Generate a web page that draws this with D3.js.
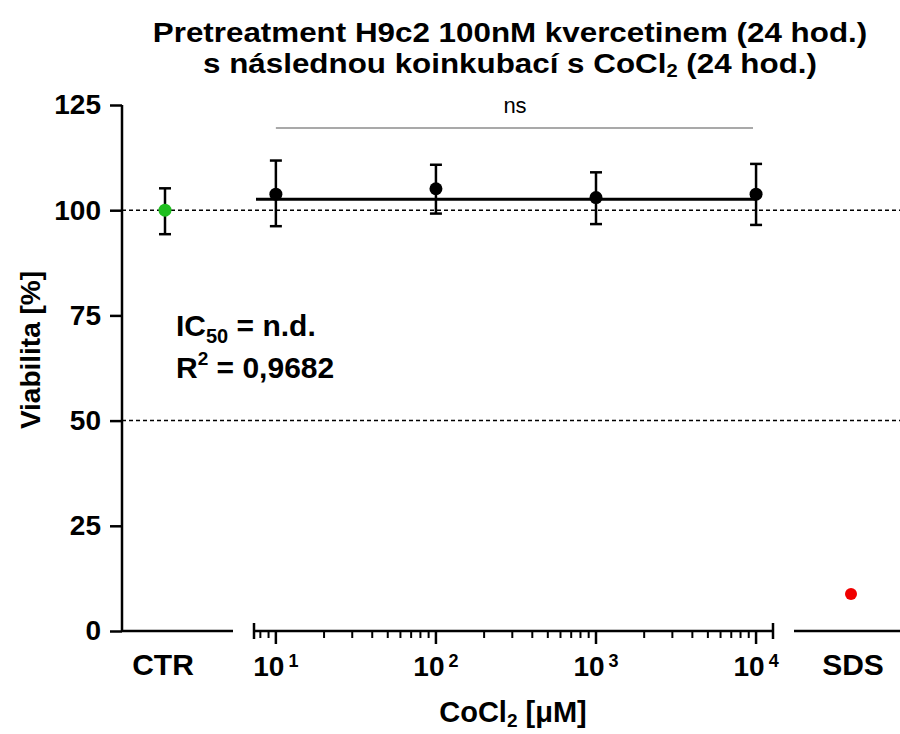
<!DOCTYPE html>
<html>
<head>
<meta charset="utf-8">
<script src="https://cdn.jsdelivr.net/npm/d3@7"></script>
<style>
  body { margin: 0; background: #fff; }
  svg text { font-family: "Liberation Sans", Arial, sans-serif; font-weight: bold; }
</style>
</head>
<body>
<script>
// data
var concentrations = [10, 100, 1000, 10000]
var viability = [103.8, 105.1, 103.0, 103.8]
var errLow = [96.2, 99.2, 96.7, 96.5]
var errHigh = [111.8, 110.8, 109.0, 111.0]
var ctrValue = [100]
var ctrErr = [94.3, 105.2]
var sdsValue = [8.8]
var fitLevel = 102.6
var yTicks = [0, 25, 50, 75, 100, 125]
var refLines = [100, 50]
var xMajor = [10, 100, 1000, 10000]

var width = 900, height = 734

var svg = d3.select("body").append("svg")
  .attr("width", width).attr("height", height)

var y = d3.scaleLinear().domain([0, 125]).range([631, 105])

// three x segments: CTR, log concentration, SDS
var xCtr = d3.scalePoint().domain(["CTR"]).range([122, 208]).padding(0.5)
var xLog = d3.scaleLog().domain([7.3, 12760]).range([254, 773])
var xSds = d3.scalePoint().domain(["SDS"]).range([796, 906]).padding(0.5)

// reference dashed lines
svg.selectAll(".ref").data(refLines).enter().append("line")
  .attr("x1", 122).attr("x2", width)
  .attr("y1", function(d) { return y(d) }).attr("y2", function(d) { return y(d) })
  .attr("stroke", "#000").attr("stroke-width", 1.5)
  .attr("stroke-dasharray", "4,3")

// y axis
var yAxis = svg.append("g").attr("transform", "translate(122,0)")
  .call(d3.axisLeft(y).tickValues(yTicks).tickSize(12).tickPadding(9))
yAxis.select(".domain").attr("d", "M-0," + y(125) + "V" + y(0)).attr("stroke-width", 2.5)
yAxis.selectAll(".tick line").attr("stroke-width", 2.5)
yAxis.selectAll("text").attr("font-size", 28).attr("fill", "#000")
  .style("font-family", "'Liberation Sans', Arial").style("font-weight", "bold")

// x axis: CTR segment
svg.append("line").attr("x1", 122).attr("x2", 233).attr("y1", y(0)).attr("y2", y(0))
  .attr("stroke", "#000").attr("stroke-width", 2.5)

// x axis: log segment
var logG = svg.append("g").attr("transform", "translate(0," + y(0) + ")")
logG.append("line").attr("x1", xLog.range()[0]).attr("x2", xLog.range()[1])
  .attr("stroke", "#000").attr("stroke-width", 2.5)
var minor = []
for (var e = 0; e < 4; e++) {
  for (var m = 2; m <= 9; m++) {
    var v = m * Math.pow(10, e)
    if (v > xLog.domain()[0] && v < xLog.domain()[1]) minor.push(v)
  }
}
logG.selectAll(".minor").data(minor).enter().append("line")
  .attr("x1", function(d) { return xLog(d) }).attr("x2", function(d) { return xLog(d) })
  .attr("y1", 0).attr("y2", 7).attr("stroke", "#000").attr("stroke-width", 2)
logG.selectAll(".major").data(xMajor).enter().append("line")
  .attr("x1", function(d) { return xLog(d) }).attr("x2", function(d) { return xLog(d) })
  .attr("y1", 0).attr("y2", 13).attr("stroke", "#000").attr("stroke-width", 2.5)
logG.selectAll(".cap").data(xLog.range()).enter().append("line")
  .attr("x1", function(d) { return d }).attr("x2", function(d) { return d })
  .attr("y1", -8).attr("y2", 8).attr("stroke", "#000").attr("stroke-width", 2.5)
var majorLbl = logG.selectAll(".mlbl").data(xMajor).enter().append("text")
  .attr("x", function(d) { return xLog(d) }).attr("y", 45)
  .attr("text-anchor", "middle").attr("font-size", 28)
majorLbl.append("tspan").text("10")
majorLbl.append("tspan").attr("dy", -9).attr("dx", 4).attr("font-size", 18)
  .text(function(d) { return Math.round(Math.log10(d)) })

// x axis: SDS segment
svg.append("line").attr("x1", 794).attr("x2", width).attr("y1", y(0)).attr("y2", y(0))
  .attr("stroke", "#000").attr("stroke-width", 2.5)

// category labels
svg.append("text").attr("x", xCtr("CTR") - 2).attr("y", 675)
  .attr("text-anchor", "middle").attr("font-size", 30).text("CTR")
svg.append("text").attr("x", xSds("SDS") + 2).attr("y", 675)
  .attr("text-anchor", "middle").attr("font-size", 30).text("SDS")

// fit line
svg.append("line").attr("x1", 256).attr("x2", xLog(10000))
  .attr("y1", y(fitLevel)).attr("y2", y(fitLevel))
  .attr("stroke", "#000").attr("stroke-width", 3)

// error bars, concentrations plus control
var pts = concentrations.map(function(c, i) {
  return { x: xLog(c), v: viability[i], lo: errLow[i], hi: errHigh[i] }
})
pts.push({ x: xCtr("CTR"), v: ctrValue[0], lo: ctrErr[0], hi: ctrErr[1], ctr: true })

var eb = svg.selectAll(".eb").data(pts).enter().append("g")
eb.append("line").attr("x1", function(d) { return d.x }).attr("x2", function(d) { return d.x })
  .attr("y1", function(d) { return y(d.lo) }).attr("y2", function(d) { return y(d.hi) })
  .attr("stroke", "#000").attr("stroke-width", 2.5)
eb.append("line").attr("x1", function(d) { return d.x - 6 }).attr("x2", function(d) { return d.x + 6 })
  .attr("y1", function(d) { return y(d.lo) }).attr("y2", function(d) { return y(d.lo) })
  .attr("stroke", "#000").attr("stroke-width", 2.5)
eb.append("line").attr("x1", function(d) { return d.x - 6 }).attr("x2", function(d) { return d.x + 6 })
  .attr("y1", function(d) { return y(d.hi) }).attr("y2", function(d) { return y(d.hi) })
  .attr("stroke", "#000").attr("stroke-width", 2.5)
eb.append("circle").attr("cx", function(d) { return d.x }).attr("cy", function(d) { return y(d.v) })
  .attr("r", 6.5).attr("fill", function(d) { return d.ctr ? "#1fbf1f" : "#000" })

// SDS point
svg.selectAll(".sds").data(sdsValue).enter().append("circle")
  .attr("cx", xSds("SDS")).attr("cy", function(d) { return y(d) })
  .attr("r", 6).attr("fill", "#f00000")

// ns bracket
svg.append("line").attr("x1", xLog(10)).attr("x2", 753).attr("y1", 128).attr("y2", 128)
  .attr("stroke", "#555").attr("stroke-width", 1.2)
svg.append("text").attr("x", 515).attr("y", 113).attr("text-anchor", "middle")
  .attr("font-size", 22).style("font-weight", "normal").text("ns")

// annotations
var ic = svg.append("text").attr("x", 176).attr("y", 336).attr("font-size", 30)
ic.append("tspan").text("IC")
ic.append("tspan").attr("dy", 7).attr("font-size", 20).text("50")
ic.append("tspan").attr("dy", -7).text(" = n.d.")
var r2 = svg.append("text").attr("x", 176).attr("y", 378).attr("font-size", 30)
r2.append("tspan").text("R")
r2.append("tspan").attr("dy", -13).attr("font-size", 19).text("2")
r2.append("tspan").attr("dy", 13).text(" = 0,9682")

// title, slightly widened like the original
svg.append("g").attr("transform", "translate(510,42) scale(1.12,1)")
  .append("text").attr("text-anchor", "middle").attr("font-size", 28)
  .text("Pretreatment H9c2 100nM kvercetinem (24 hod.)")
var t2 = svg.append("g").attr("transform", "translate(510,73) scale(1.12,1)")
  .append("text").attr("text-anchor", "middle").attr("font-size", 28)
t2.append("tspan").text("s následnou koinkubací s CoCl")
t2.append("tspan").attr("dy", 4).attr("font-size", 18).text("2")
t2.append("tspan").attr("dy", -4).text(" (24 hod.)")

// axis titles
svg.append("text").attr("transform", "translate(40,350) rotate(-90)")
  .attr("text-anchor", "middle").attr("font-size", 28).text("Viabilita [%]")
var xt = svg.append("text").attr("x", 513).attr("y", 722).attr("text-anchor", "middle")
  .attr("font-size", 29)
xt.append("tspan").text("CoCl")
xt.append("tspan").attr("dy", 5).attr("font-size", 19).text("2")
xt.append("tspan").attr("dy", -5).text(" [μM]")
</script>
</body>
</html>
